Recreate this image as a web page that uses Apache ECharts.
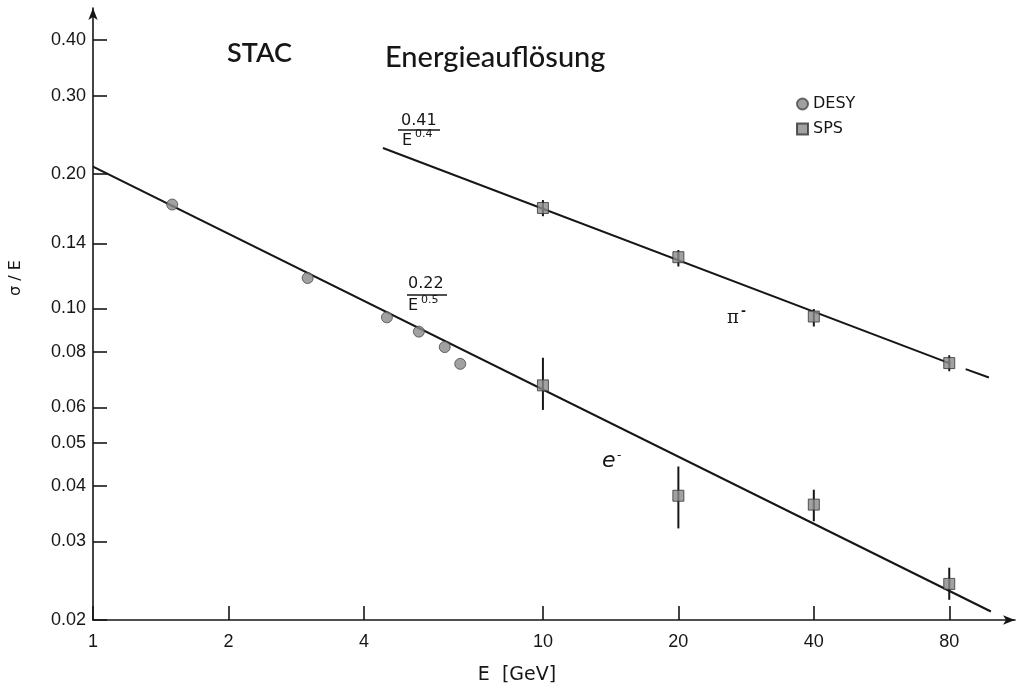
<!DOCTYPE html>
<html><head><meta charset="utf-8">
<script src="https://cdn.jsdelivr.net/npm/echarts@6/dist/echarts.min.js"></script>
<style>html,body{margin:0;padding:0;background:#fff}#c{width:1022px;height:686px}</style>
</head><body><div id="c"></div>
<script>
// ---- data ----
const xTicks = [1, 2, 4, 10, 20, 40, 80];
const yTicks = [0.02, 0.03, 0.04, 0.05, 0.06, 0.08, 0.10, 0.14, 0.20, 0.30, 0.40];

const desyE = [1.5, 3.0, 4.5, 5.3, 6.05, 6.55];
const desyV = [0.171, 0.117, 0.0955, 0.0887, 0.0819, 0.0751];

const spsElecE  = [10, 20, 40, 80];
const spsElecV  = [0.0672, 0.0380, 0.0363, 0.0241];
const spsElecLo = [0.0592, 0.0321, 0.0333, 0.0222];
const spsElecHi = [0.0775, 0.0442, 0.0392, 0.0262];

const spsPionE  = [10, 20, 40, 80];
const spsPionV  = [0.168, 0.1303, 0.0959, 0.0754];
const spsPionLo = [0.161, 0.1242, 0.0911, 0.0723];
const spsPionHi = [0.175, 0.1352, 0.0997, 0.0785];

const elecFitE = [1, 99];
const elecFitV = [0.208, 0.0209];
const pionFitE = [4.41, 80.5];
const pionFitV = [0.229, 0.0752];
const pionExtE = [87, 98];
const pionExtV = [0.0731, 0.0700];

// ---- helpers ----
const zip = (a, b) => a.map((v, i) => [v, b[i]]);
const zip3 = (a, b, c) => a.map((v, i) => [v, b[i], c[i]]);

const INK = '#161616';
const LBL = { color: INK, fontFamily: 'Liberation Sans', fontSize: 18 };

function errRender(params, api) {
  const x = api.value(0);
  const p1 = api.coord([x, api.value(1)]);
  const p2 = api.coord([x, api.value(2)]);
  return { type: 'line', shape: { x1: p1[0], y1: p1[1], x2: p2[0], y2: p2[1] },
           style: { stroke: INK, lineWidth: 2 } };
}

const chart = echarts.init(document.getElementById('c'), null, { renderer: 'canvas' });
chart.setOption({
  backgroundColor: '#fff',
  animation: false,
  grid: { left: 93, right: 7, top: 8, bottom: 66, containLabel: false, outerBoundsMode: 'none' },
  legend: {
    orient: 'vertical', left: 791, top: 91, itemGap: 9, itemWidth: 11, itemHeight: 11,
    textStyle: { color: INK, fontFamily: 'DejaVu Sans', fontSize: 16 },
    data: [{ name: 'DESY', icon: 'circle' }, { name: 'SPS', icon: 'rect' }]
  },
  xAxis: {
    type: 'log', logBase: 10, min: 1, max: 112,
    axisLine: { show: true, symbol: ['none', 'arrow'], symbolSize: [7, 12], lineStyle: { color: INK, width: 1.6 } },
    axisTick: { show: true, inside: true, length: 14, customValues: xTicks, lineStyle: { color: INK, width: 1.6 } },
    minorTick: { show: false },
    axisLabel: Object.assign({ customValues: xTicks, margin: 13, formatter: v => String(v) }, LBL),
    splitLine: { show: false }
  },
  yAxis: {
    type: 'log', logBase: 10, min: 0.02, max: 0.472,
    axisLine: { show: true, symbol: ['none', 'arrow'], symbolSize: [7, 12], lineStyle: { color: INK, width: 1.6 } },
    axisTick: { show: true, inside: true, length: 14, customValues: yTicks, lineStyle: { color: INK, width: 1.6 } },
    minorTick: { show: false },
    axisLabel: Object.assign({ customValues: yTicks, margin: 7, formatter: v => Number(v).toFixed(2) }, LBL),
    splitLine: { show: false }
  },
  graphic: [
    { type: 'text', left: 227, top: 40, style: { text: 'STAC', fill: INK, font: '600 27px Lato' } },
    { type: 'text', left: 385, top: 43, style: { text: 'Energieauflösung', fill: INK, font: '500 29px Lato' } },
    // pi fraction
    { type: 'text', left: 401, top: 113, style: { text: '0.41', fill: INK, font: '16px "DejaVu Sans"' } },
    { type: 'line', shape: { x1: 398, y1: 130, x2: 440, y2: 130 }, style: { stroke: INK, lineWidth: 1.5 } },
    { type: 'text', left: 402, top: 133, style: { text: 'E', fill: INK, font: '16px "DejaVu Sans"' } },
    { type: 'text', left: 415, top: 129, style: { text: '0.4', fill: INK, font: '11px "DejaVu Sans"' } },
    // e fraction
    { type: 'text', left: 408, top: 276, style: { text: '0.22', fill: INK, font: '16px "DejaVu Sans"' } },
    { type: 'line', shape: { x1: 407, y1: 295, x2: 447, y2: 295 }, style: { stroke: INK, lineWidth: 1.5 } },
    { type: 'text', left: 408, top: 298, style: { text: 'E', fill: INK, font: '16px "DejaVu Sans"' } },
    { type: 'text', left: 421, top: 295, style: { text: '0.5', fill: INK, font: '11px "DejaVu Sans"' } },
    // particle labels
    { type: 'text', left: 727, top: 309, style: { text: 'π', fill: INK, font: '18px "DejaVu Serif"' } },
    { type: 'text', left: 741, top: 306, style: { text: '-', fill: INK, font: 'bold 12px "DejaVu Sans"' } },
    { type: 'text', left: 602, top: 450, style: { text: 'e', fill: INK, font: 'italic 22px "DejaVu Sans"' } },
    { type: 'text', left: 617, top: 450, style: { text: '-', fill: INK, font: '12px "DejaVu Sans"' } },
    // axis names
    { type: 'text', x: 16, y: 278, rotation: Math.PI / 2,
      style: { text: 'σ / E', fill: INK, font: '16px "DejaVu Sans"', align: 'center', verticalAlign: 'middle' } },
    { type: 'text', x: 517, y: 675,
      style: { text: 'E  [GeV]', fill: INK, font: '19px "DejaVu Sans"', align: 'center', verticalAlign: 'middle' } }
  ],
  series: [
    { type: 'line', name: 'e fit', data: zip(elecFitE, elecFitV), symbol: 'none', silent: true,
      lineStyle: { color: INK, width: 2.2 }, z: 2 },
    { type: 'line', name: 'pi fit', data: zip(pionFitE, pionFitV), symbol: 'none', silent: true,
      lineStyle: { color: INK, width: 2 }, z: 2 },
    { type: 'line', name: 'pi ext', data: zip(pionExtE, pionExtV), symbol: 'none', silent: true,
      lineStyle: { color: INK, width: 2 }, z: 2 },
    { type: 'custom', name: 'e err', renderItem: errRender, data: zip3(spsElecE, spsElecLo, spsElecHi), z: 3 },
    { type: 'custom', name: 'pi err', renderItem: errRender, data: zip3(spsPionE, spsPionLo, spsPionHi), z: 3 },
    { type: 'scatter', name: 'DESY', data: zip(desyE, desyV), symbol: 'circle', symbolSize: 11,
      itemStyle: { color: '#8a8a8a', borderColor: '#4a4a4a', borderWidth: 1 }, z: 4 },
    { type: 'scatter', name: 'SPS', data: zip(spsElecE, spsElecV), symbol: 'rect', symbolSize: 11,
      itemStyle: { color: '#8a8a8a', borderColor: '#333', borderWidth: 1 }, z: 4 },
    { type: 'scatter', name: 'SPS', data: zip(spsPionE, spsPionV), symbol: 'rect', symbolSize: 11,
      itemStyle: { color: '#8a8a8a', borderColor: '#333', borderWidth: 1 }, z: 4 }
  ]
});
</script>
</body></html>
